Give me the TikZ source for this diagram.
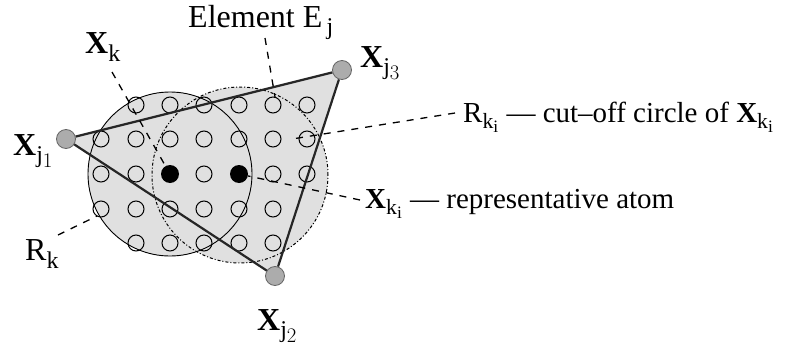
\documentclass[tikz,border=0pt]{standalone}
\usepackage{fontspec}
\setmainfont{Liberation Serif}
\renewcommand\defaultscriptratio{.75}
\renewcommand\defaultscriptscriptratio{.6}
\begin{document}
\begin{tikzpicture}[x=1pt,y=-1pt,
  atom/.style={circle,draw=black,line width=1pt,minimum size=16pt,inner sep=0pt},
  repatom/.style={circle,fill=black,minimum size=18pt,inner sep=0pt},
  vertex/.style={circle,fill=gray!65,draw=black!60,line width=0.8pt,minimum size=19pt,inner sep=0pt},
  edge/.style={line width=2.2pt,black!85},
  leader/.style={dash pattern=on 7pt off 7pt,line width=1.3pt},
  cutoff/.style={line width=0.9pt},
  cutoffdot/.style={line width=1pt,dash pattern=on 3pt off 2pt on 1pt off 2pt},
  lab/.style={font=\fontsize{32}{38}\selectfont,inner sep=0pt,anchor=base west},
  desc/.style={font=\fontsize{29}{35}\selectfont,inner sep=0pt,anchor=base west},
  shade/.style={fill=gray!24}]

\useasboundingbox[fill=white] (0,0) rectangle (788,351);

% grey region
\fill[shade] (66,139) -- (342,70) -- (275,276) -- cycle;
\fill[shade] (170,174) circle[radius=82pt];
\fill[shade] (240,175) circle[radius=88pt];

% cut-off circles
\draw[cutoff] (170,174) circle[radius=82pt];
\draw[cutoffdot] (240,175) circle[radius=88pt];

% atoms
\foreach \c/\x in {1/136,2/170,3/204,4/239,5/273,6/307}
  \node[atom] (a1\c) at (\x,105) {};
\foreach \c/\x in {0/101,1/136,2/170,3/204,4/239,5/273,6/307}
  \node[atom] (a2\c) at (\x,139) {};
\foreach \c/\x in {0/101,1/136,3/204,5/273,6/307}
  \node[atom] (a3\c) at (\x,174) {};
\node[repatom] (xk) at (170,174) {};
\node[repatom] (xki) at (239,174) {};
\foreach \c/\x in {0/101,1/136,2/170,3/204,4/239,5/273}
  \node[atom] (a4\c) at (\x,209) {};
\foreach \c/\x in {1/136,2/170,3/204,4/239,5/273}
  \node[atom] (a5\c) at (\x,243) {};

% element vertices
\node[vertex] (j1) at (66,139) {};
\node[vertex] (j3) at (342,70) {};
\node[vertex] (j2) at (275,276) {};
\draw[edge] (j1) -- (j3);
\draw[edge] (j3) -- (j2);
\draw[edge] (j2) -- (j1);

% labels
\node[lab] (lj1) at (13,155) {$\mathbf{X}_{\mathrm{j}_{1}}$};
\node[lab] (lj3) at (360,67) {$\mathbf{X}_{\mathrm{j}_{3}}$};
\node[lab] (lj2) at (257,330) {$\mathbf{X}_{\mathrm{j}_{2}}$};
\node[lab] (lxk) at (85,53) {$\mathbf{X}_{\mathrm{k}}$};
\node[lab] (lel) at (188,27) {Element E$_{\,\mathrm{j}}$};
\node[lab] (lrk) at (25,260) {R$_{\mathrm{k}}$};
\node[desc] (lrki) at (463,122) {R$_{\mathrm{k}_{\mathrm{i}}}$ — cut–off circle of $\mathbf{X}_{\mathrm{k}_{\mathrm{i}}}$};
\node[desc] (lxki) at (365,208) {$\mathbf{X}_{\mathrm{k}_{\mathrm{i}}}$ — representative atom};

% leader lines
\coordinate (xkS) at (112,72);
\coordinate (elS) at (265,38);
\coordinate (elE) at (275,97);
\coordinate (rkiS) at (455,113);
\coordinate (rkiE) at (292,139);
\coordinate (xkiS) at (360,200);
\coordinate (rkS) at (58,235);
\coordinate (rkE) at (97,216);
\draw[leader] (xkS) -- (xk);
\draw[leader] (elS) -- (elE);
\draw[leader] (rkiS) -- (rkiE);
\draw[leader] (xkiS) -- (xki);
\draw[leader] (rkS) -- (rkE);
\end{tikzpicture}
\end{document}
